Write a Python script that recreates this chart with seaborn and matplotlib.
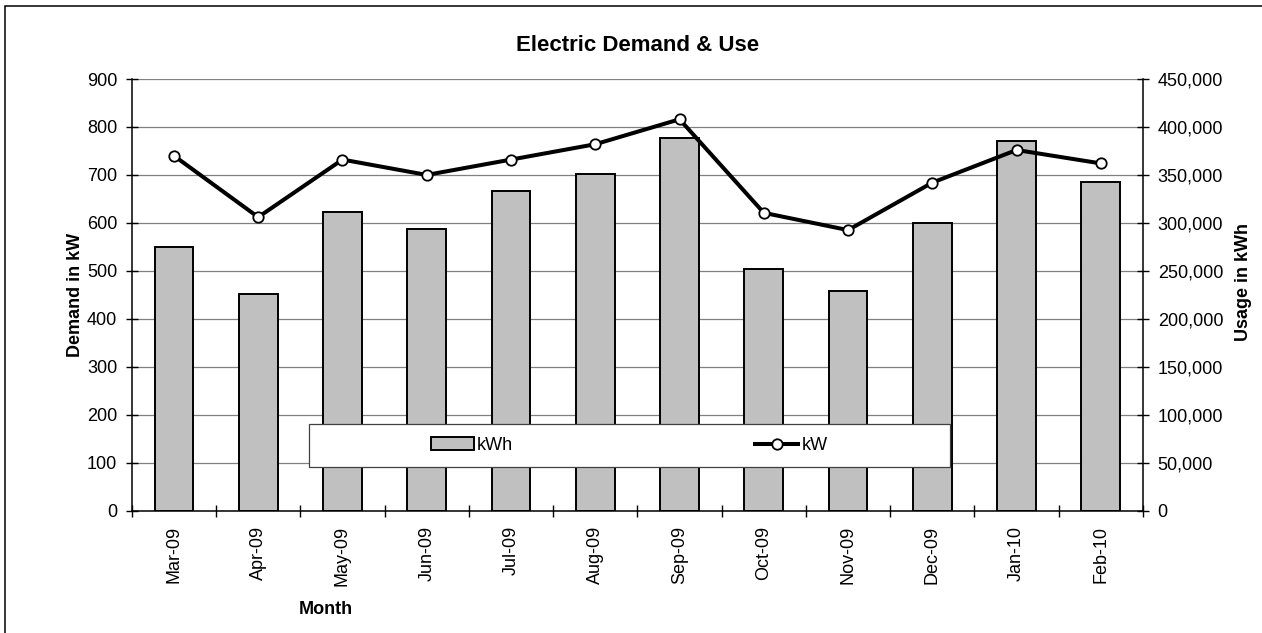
import pandas as pd
import matplotlib
matplotlib.use("Agg")
import matplotlib.pyplot as plt
import matplotlib.ticker as mticker
from matplotlib.patches import Rectangle
import seaborn as sns

# monthly data
months = ["Mar-09", "Apr-09", "May-09", "Jun-09", "Jul-09", "Aug-09",
          "Sep-09", "Oct-09", "Nov-09", "Dec-09", "Jan-10", "Feb-10"]
kwh = [274500, 226000, 311500, 294000, 333500, 351000,
       388000, 251500, 229000, 299500, 385500, 342300]
kw = [740, 612, 732, 700, 732, 764, 816, 621, 585, 684, 752, 724]
kw_ticks = list(range(0, 901, 100))
kwh_ticks = list(range(0, 450001, 50000))

df = pd.DataFrame({"month": months, "kwh": kwh, "kw": kw})
df["pos"] = df.index

plt.rcParams["font.family"] = ["Liberation Sans", "DejaVu Sans"]
plt.rcParams["font.size"] = 13

W, H = 1262, 633
fig = plt.figure(figsize=(W / 100, H / 100), dpi=100)
ax = fig.add_axes([131.8 / W, 1 - 510.7 / H, (1143 - 131.8) / W, (510.7 - 79) / H])

# bars -> kWh (right axis)
sns.barplot(data=df, x="month", y="kwh", ax=ax, color="#C0C0C0", saturation=1,
            edgecolor="black", linewidth=1.4, width=0.46, zorder=2)
ax.set_ylim(0, 450000)
ax.set_xlim(-0.5, len(months) - 0.5)
ax.set_yticks(kwh_ticks)
ax.yaxis.set_major_formatter(mticker.StrMethodFormatter("{x:,.0f}"))
ax.grid(axis="y", color="#808080", lw=0.9, zorder=0)
ax.set_axisbelow(True)

# line -> kW (left axis)
ax2 = ax.twinx()
sns.lineplot(data=df, x="pos", y="kw", ax=ax2, color="black", lw=2.9,
             marker="o", markersize=7.5, markerfacecolor="white",
             markeredgecolor="black", markeredgewidth=1.3)
ax2.set_ylim(0, 900)
ax2.set_yticks(kw_ticks)
ax2.set_xlim(-0.5, len(months) - 0.5)

ax.yaxis.tick_right()
ax.yaxis.set_label_position("right")
ax2.yaxis.tick_left()
ax2.yaxis.set_label_position("left")

for a in (ax, ax2):
    for s in a.spines.values():
        s.set_visible(False)
ax.spines["bottom"].set_visible(True)
ax.spines["right"].set_visible(True)
ax2.spines["left"].set_visible(True)
for s in (ax.spines["bottom"], ax.spines["right"], ax2.spines["left"]):
    s.set_color("black")
    s.set_linewidth(1.1)

ax.tick_params(axis="y", which="major", direction="inout", length=8.5, width=1,
               pad=6.3, labelsize=13, right=True, left=False)
ax2.tick_params(axis="y", which="major", direction="inout", length=8.5, width=1,
                pad=6.3, labelsize=13)

# x ticks: labels at centres, tick marks at category boundaries
ax.set_xticks(df["pos"])
ax.set_xticklabels(months, rotation=90)
ax.set_xticks([p - 0.5 for p in range(len(months) + 1)], minor=True)
ax.tick_params(axis="x", which="major", length=0, pad=11, labelsize=13)
ax.tick_params(axis="x", which="minor", direction="inout", length=8, width=1)

ax.set_xlabel("Month", fontweight="bold", fontsize=13)
ax.xaxis.set_label_coords((326 - 131.8) / 1011.2, (510.7 - 601) / 431.7)
ax2.set_xlabel("")
ax2.set_ylabel("Demand in kW", fontweight="bold", fontsize=13)
ax2.yaxis.set_label_coords((75 - 131.8) / 1011.2, 0.5)
ax2.yaxis.label.set_va("center")
ax.set_ylabel("Usage in kWh", fontweight="bold", fontsize=13)
ax.yaxis.set_label_coords((1243 - 131.8) / 1011.2, 0.53)
ax.yaxis.label.set_va("center")

ax2.set_title("Electric Demand & Use", fontweight="bold", fontsize=16, pad=20)

# legend box
fig.patches.append(Rectangle((309 / W, 1 - 467 / H), 641 / W, 43 / H,
                             transform=fig.transFigure, facecolor="white",
                             edgecolor="#404040", lw=0.9, zorder=3))
handles = [ax.containers[0].patches[0], ax2.lines[0]]
leg = fig.legend(handles, ["kWh", "kW"], loc="center",
                 bbox_to_anchor=(629 / W, 1 - 445.5 / H), ncol=2, frameon=False,
                 columnspacing=13.4, handlelength=2.4, handletextpad=0.17,
                 fontsize=13)
leg.set_zorder(5)

# outer chart border (right and bottom edges fall outside the image)
fig.patches.append(Rectangle((5 / W, -0.05), 1.1, 1 - 6 / H + 0.05,
                             transform=fig.transFigure, fill=False,
                             edgecolor="black", lw=1.1, zorder=4))

fig.savefig("out.png", dpi=100)
